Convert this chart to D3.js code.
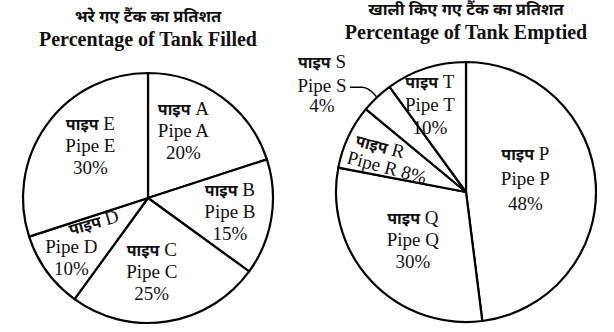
<!DOCTYPE html>
<meta charset="utf-8">
<head>
    <title></title>
    <script src="https://cdn.jsdelivr.net/npm/d3@7"></script>
</head>

<style>
    body{ margin:0; background:#fff; }
    text{
      font-family: "Liberation Serif", "Times New Roman", serif;
      font-size:19px;
      fill:#111;
    }
    .hi{
      font-family: "Noto Sans Devanagari", "Lohit Devanagari", "Noto Sans", sans-serif;
      font-weight: bold;
    }
    .title{ font-weight:bold; }
</style>
<svg width="614" height="332"></svg>

<script>
    // data
    var filledTitleHi = 'भरे गए टैंक का प्रतिशत',
        filledTitleEn = 'Percentage of Tank Filled',
        emptiedTitleHi = 'खाली किए गए टैंक का प्रतिशत',
        emptiedTitleEn = 'Percentage of Tank Emptied';

    var filledPipes = ['A','B','C','D','E'];
    var filledValues = [20,15,25,10,30];

    var emptiedPipes = ['P','Q','R','S','T'];
    var emptiedValues = [48,30,8,4,10];

    var svg = d3.select('svg');

    // label placement: offset from slice centroid, line gap, rotation
    var filledLayout = {
        A:{dx:-5, dy:-5, gap:22},
        B:{dx:14, dy:9, gap:22},
        C:{dx:-7, dy:12, gap:22},
        D:{dx:-21, dy:15, gap:22, split:true},
        E:{dx:-2, dy:-6, gap:22}
    };
    var emptiedLayout = {
        P:{dx:-12, dy:-3, gap:25},
        Q:{dx:-1, dy:5, gap:22},
        R:{dx:-16, dy:12, gap:19, rot:15, oneLine:true},
        S:{outside:true},
        T:{dx:-14, dy:-13, gap:23}
    };

    function drawPie(cx, cy, r, names, values, layout, titleHi, titleEn, titleY){
        var g = svg.append('g').attr('transform','translate('+cx+','+cy+')');
        var pie = d3.pie().sort(null).value(function(d){ return d; });
        var arcs = pie(values);
        var arc = d3.arc().innerRadius(0).outerRadius(r);
        var labelArc = d3.arc().innerRadius(r*0.55).outerRadius(r*0.55);

        g.selectAll('path').data(arcs).enter().append('path')
            .attr('d', arc)
            .style('fill','#fff')
            .style('stroke','#000')
            .style('stroke-width',2.2)
            .style('stroke-linejoin','round');

        svg.append('text').attr('class','hi title')
            .attr('x',cx).attr('y',titleY[0])
            .attr('text-anchor','middle')
            .style('font-size','16.5px')
            .text(titleHi);
        svg.append('text').attr('class','title')
            .attr('x',cx).attr('y',titleY[1])
            .attr('text-anchor','middle')
            .style('font-size','20px')
            .text(titleEn);

        arcs.forEach(function(a, i){
            var name = names[i], lay = layout[name];
            var pct = values[i] + '%';
            if(lay.outside){
                var mid = (a.startAngle + a.endAngle)/2;
                var ex = Math.sin(mid)*r, ey = -Math.cos(mid)*r;
                var ly = ey - 10;
                g.append('path')
                    .attr('d','M'+ex+','+ey+' Q'+(ex-8)+','+ly+' '+(ex-15)+','+ly+' L'+(ex-27)+','+ly)
                    .style('fill','none').style('stroke','#000').style('stroke-width',1.3);
                var ox = ex - 55, oy = ly + 5;
                var t = g.append('text').attr('text-anchor','middle').attr('x',ox).attr('y',oy-24);
                t.append('tspan').attr('class','hi').style('font-size','16px').text('पाइप');
                t.append('tspan').text(' ' + name);
                g.append('text').attr('text-anchor','middle').attr('x',ox).attr('y',oy).text('Pipe ' + name);
                g.append('text').attr('text-anchor','middle').attr('x',ox).attr('y',oy+20).text(pct);
                return;
            }
            var c = labelArc.centroid(a);
            var x = c[0] + lay.dx, y = c[1] + lay.dy;
            var lg = g.append('g').attr('transform','translate('+x+','+y+')' + (lay.rot ? ' rotate('+lay.rot+')' : ''));
            if(lay.oneLine){
                var h = lg.append('text').attr('text-anchor','middle').attr('x',-12).attr('y',-lay.gap);
                h.append('tspan').attr('class','hi').style('font-size','16px').text('पाइप');
                h.append('tspan').text(' ' + name);
                lg.append('text').attr('text-anchor','middle').attr('y',0).text('Pipe ' + name + ' ' + pct);
                return;
            }
            if(lay.split){
                var hd = g.append('text').attr('text-anchor','middle')
                    .attr('transform','translate('+(x+24)+','+(y-25)+') rotate(-16)');
                hd.append('tspan').attr('class','hi').style('font-size','16px').text('पाइप');
                hd.append('tspan').text(' ' + name);
            }else{
                var hh = lg.append('text').attr('text-anchor','middle').attr('y',-lay.gap);
                hh.append('tspan').attr('class','hi').style('font-size','16px').text('पाइप');
                hh.append('tspan').text(' ' + name);
            }
            lg.append('text').attr('text-anchor','middle').attr('y',0).text('Pipe ' + name);
            lg.append('text').attr('text-anchor','middle').attr('y',lay.gap).text(pct);
        });
    }

    drawPie(148, 198, 125, filledPipes, filledValues, filledLayout, filledTitleHi, filledTitleEn, [22,46]);
    drawPie(466, 192, 130, emptiedPipes, emptiedValues, emptiedLayout, emptiedTitleHi, emptiedTitleEn, [15,39]);
</script>
